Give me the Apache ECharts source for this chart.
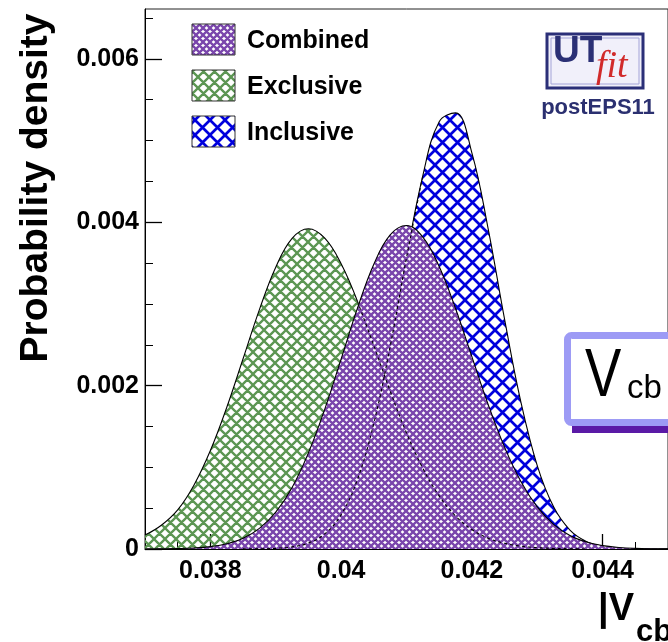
<!DOCTYPE html>
<html>
<head>
<meta charset="utf-8">
<script src="https://cdn.jsdelivr.net/npm/echarts@6/dist/echarts.min.js"></script>
<style>html,body{margin:0;padding:0;background:#fff}#c{width:668px;height:642px}</style>
</head>
<body>
<div id="c"></div>
<script>
// |Vcb| sample points
const xs = [0.037,0.03725,0.0375,0.03775,0.038,0.03825,0.0385,0.03875,0.039,0.03925,0.0395,0.03975,
  0.04,0.04025,0.0405,0.04075,0.041,0.04125,0.0415,0.04175,0.042,0.04225,0.0425,0.04275,
  0.043,0.04325,0.0435,0.04375,0.044,0.04425,0.0445,0.04475,0.045];
const combined = [0,0.000002,0.000005,0.000012,0.000029,0.000064,0.000131,0.000252,0.000451,0.000754,0.001177,0.001713,
  0.002326,0.002948,0.003486,0.003846,0.003960,0.003818,0.003459,0.002944,0.002354,0.001768,0.001247,0.000827,
  0.000515,0.000301,0.000165,0.000085,0.000041,0.000019,0.000008,0.000003,0.000001];
const exclusive = [0.00017,0.00029,0.000478,0.000784,0.001205,0.001732,0.002329,0.002930,0.003450,0.003802,0.003920,0.003804,
  0.003492,0.003032,0.002490,0.001934,0.001421,0.000988,0.000650,0.000404,0.000238,0.000132,0.000070,0.000035,
  0.000016,0.000007,0.000003,0,0,0,0,0,0];
const inclusive = [0,0,0,0,0,0,0.000001,0.000002,0.000008,0.000026,0.000073,0.000185,
  0.000420,0.000852,0.001539,0.002479,0.003564,0.004571,0.005230,0.005338,0.004849,0.003916,0.002813,0.001798,
  0.001021,0.000516,0.000232,0.000093,0.000033,0.000010,0.000003,0.000001,0];
const xMajor = [0.038,0.040,0.042,0.044];
const xMinor = [0.0375,0.0385,0.039,0.0395,0.0405,0.041,0.0415,0.0425,0.043,0.0435,0.0445];
const yMajor = [0,0.002,0.004,0.006];
const yMinor = [0.0005,0.001,0.0015,0.0025,0.003,0.0035,0.0045,0.005,0.0055,0.0065];
const legendNames = ['Combined','Exclusive','Inclusive'];

function hatch(p, lw, color, bg) {
  const c = document.createElement('canvas');
  c.width = p; c.height = p;
  const g = c.getContext('2d');
  if (bg) { g.fillStyle = bg; g.fillRect(0,0,p,p); }
  g.strokeStyle = color; g.lineWidth = lw;
  g.beginPath();
  for (let k = -1; k <= 1; k++) {
    g.moveTo(k*p, 0); g.lineTo(k*p+p, p);
    g.moveTo(k*p+p, 0); g.lineTo(k*p, p);
  }
  g.stroke();
  return c;
}
const pPurple = hatch(7, 2.35, '#7a46ac', '#ffffff');
const pGreen = hatch(11, 2.3, '#5c9653');
const pBlue = hatch(15, 2.7, '#0000dd');
const pat = c => ({image: c, repeat: 'repeat'});

const pairs = (ys, a, b) => xs.map((x,i) => [x, ys[i]]).slice(a === undefined ? 0 : a, b === undefined ? xs.length : b + 1);
const FF = '"Liberation Sans", Arial, Helvetica, sans-serif';

function areaSeries(name, ys, p, z) {
  return {
    name, type: 'line', data: pairs(ys), smooth: 0.4,
    symbol: 'none', z, silent: true,
    lineStyle: {width: 0, opacity: 0},
    areaStyle: {color: pat(p), opacity: 1}
  };
}
function outline(ys, a, b, dashed, z) {
  return {
    type: 'line', data: pairs(ys, a, b), smooth: 0.4,
    symbol: 'none', z, silent: true,
    lineStyle: {color: '#000', width: 1.1, type: dashed ? [3, 3] : 'solid'}
  };
}

const chart = echarts.init(document.getElementById('c'), null, {renderer: 'canvas'});
const legendY = [24, 70, 116];
const legendPats = [pPurple, pGreen, pBlue];
const graphics = [];
legendNames.forEach((n, i) => {
  graphics.push({type:'rect', shape:{x:192, y:legendY[i], width:43, height:31},
    style:{fill: pat(legendPats[i]), stroke:'#333', lineWidth:1}, z:100});
  graphics.push({type:'text', x:247, y:legendY[i]+17,
    style:{text:n, font:'bold 25px '+FF, fill:'#000', verticalAlign:'middle'}, z:100});
});
// UTfit logo
graphics.push({type:'rect', shape:{x:547, y:34, width:96, height:54}, style:{fill:'#f1f0fa', stroke:'#2b2f78', lineWidth:3}, z:100});
graphics.push({type:'rect', shape:{x:551, y:38, width:88, height:46}, style:{fill:'none', stroke:'#a4a4d8', lineWidth:1}, z:100});
graphics.push({type:'text', x:553, y:52, style:{text:'UT', font:'bold 37px '+FF, fill:'#2b3075', verticalAlign:'middle'}, z:101});
graphics.push({type:'text', x:596, y:67, style:{text:'fit', font:'italic 38px "Liberation Serif", "DejaVu Serif", serif', fill:'#d12a2a', verticalAlign:'middle'}, z:101});
graphics.push({type:'text', x:598, y:108, style:{text:'postEPS11', font:'bold 22px '+FF, fill:'#2b3070', align:'center', verticalAlign:'middle'}, z:101});
// Vcb box
graphics.push({type:'rect', shape:{x:572, y:342, width:120, height:91}, style:{fill:'#5a1aa6'}, z:100});
graphics.push({type:'rect', shape:{x:567.5, y:335.5, width:120, height:87, r:4}, style:{fill:'#fff', stroke:'#9d9bf5', lineWidth:7}, z:101});
graphics.push({type:'text', x:585, y:377, scaleX:0.8, style:{text:'V', font:'68px '+FF, fill:'#000', verticalAlign:'middle'}, z:102});
graphics.push({type:'text', x:627, y:389, style:{text:'cb', font:'33px '+FF, fill:'#000', verticalAlign:'middle'}, z:102});
// axis titles
graphics.push({type:'text', x:36, y:188, rotation:Math.PI/2, style:{text:'Probability density', font:'bold 39px '+FF, fill:'#000', align:'center', verticalAlign:'middle'}, z:100});
graphics.push({type:'text', x:598, y:610, style:{text:'|V', font:'bold 38px '+FF, fill:'#000', verticalAlign:'middle'}, z:100});
graphics.push({type:'text', x:636, y:632, style:{text:'cb', font:'bold 31px '+FF, fill:'#000', verticalAlign:'middle'}, z:100});

const xBase = {type:'value', min:0.037, max:0.045, position:'bottom', splitLine:{show:false}};
const yBase = {type:'value', min:0, max:0.00661, position:'left', splitLine:{show:false}};

chart.setOption({
  animation: false,
  backgroundColor: '#fff',
  grid: {left:145, right:-7, top:9, bottom:93, show:true, borderColor:'#222', borderWidth:1, backgroundColor:'transparent'},
  xAxis: [
    Object.assign({}, xBase, {
      axisLine:{show:true, lineStyle:{color:'#000', width:1}},
      axisTick:{show:true, inside:true, length:15, customValues:xMajor, lineStyle:{color:'#000', width:1.3}},
      axisLabel:{show:true, customValues:xMajor, margin:10, color:'#000', fontFamily:FF, fontWeight:'bold', fontSize:25,
        formatter: v => String(+(+v).toFixed(3))}
    }),
    Object.assign({}, xBase, {
      axisLine:{show:false},
      axisTick:{show:true, inside:true, length:7, customValues:xMinor, lineStyle:{color:'#000', width:1}},
      axisLabel:{show:false}
    })
  ],
  yAxis: [
    Object.assign({}, yBase, {
      axisLine:{show:true, lineStyle:{color:'#000', width:1}},
      axisTick:{show:true, inside:true, length:17, customValues:yMajor, lineStyle:{color:'#000', width:1.3}},
      axisLabel:{show:true, customValues:yMajor, margin:6, color:'#000', fontFamily:FF, fontWeight:'bold', fontSize:25,
        formatter: v => (+v === 0 ? '0' : (+v).toFixed(3))}
    }),
    Object.assign({}, yBase, {
      axisLine:{show:false},
      axisTick:{show:true, inside:true, length:8, customValues:yMinor, lineStyle:{color:'#000', width:1}},
      axisLabel:{show:false}
    })
  ],
  series: [
    areaSeries('Inclusive', inclusive, pBlue, 2),
    areaSeries('Exclusive', exclusive, pGreen, 3),
    outline(exclusive, 0, 13, false, 4),
    outline(inclusive, 16, 32, false, 4),
    areaSeries('Combined', combined, pPurple, 5),
    outline(combined, 0, 32, false, 7),
    outline(exclusive, 13, 27, true, 6),
    outline(inclusive, 6, 17, true, 6)
  ],
  graphic: graphics
});
</script>
</body>
</html>
